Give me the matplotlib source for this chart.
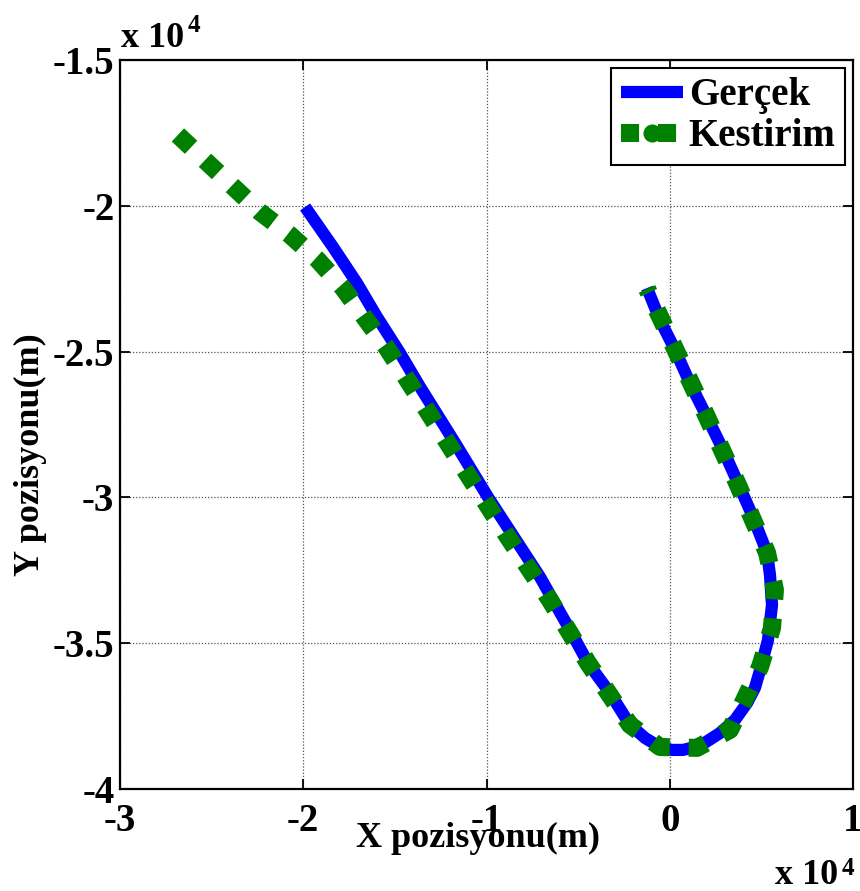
import matplotlib
matplotlib.use("Agg")
import matplotlib.pyplot as plt
from matplotlib.lines import Line2D
from matplotlib.ticker import FixedLocator, FuncFormatter

# ---- data (metres) ----
gercek_x = [-19900, -18380, -17070, -15980, -14720, -13630, -11720, -9920, -7080, -5440,
            -4460, -3260, -2170, -1350, -530, 120, 720, 1650, 2740, 3560, 4220, 4650,
            4930, 5360, 5580, 5470, 5310, 4540, 3720, 2910, 2030, 1100, 290, -530, -1240]
gercek_y = [-20040, -21410, -22650, -23810, -25050, -26210, -28130, -29990, -32730, -34550,
            -35680, -36710, -37800, -38250, -38560, -38660, -38660, -38520, -38080, -37630,
            -37050, -36530, -35920, -34890, -33690, -32660, -31900, -30670, -29500, -28370,
            -27240, -26080, -24940, -23920, -22820]

kestirim_x = [-26840, -22360, -20720, -19200, -17830, -16630, -15430, -13190, -11010, -8830,
              -6540, -4460, -2170, -530, 1490, 3290, 4930, 5580, 5740, 5310, 3720, 2030,
              290, -1240]
kestirim_y = [-17570, -20210, -21000, -21860, -22820, -23850, -24880, -27070, -29230, -31360,
              -33520, -35680, -37800, -38560, -38590, -37970, -35810, -34480, -33170, -31900,
              -29570, -27240, -24910, -22850]

x_ticks = [-30000, -20000, -10000, 0, 10000]
y_ticks = [-40000, -35000, -30000, -25000, -20000, -15000]
series_labels = ["Gerçek", "Kestirim"]

FONT = "Liberation Serif"
FS = 26
TFS = 28

fig = plt.figure(figsize=(8.6, 8.91), dpi=100)
W, H = 860, 891
left, right, top, bottom = 120, 853, 60, 789
ax = fig.add_axes([left / W, 1 - bottom / H, (right - left) / W, (bottom - top) / H])

ax.plot(gercek_x, gercek_y, color="#0000ff", lw=8.8, solid_capstyle="butt",
        solid_joinstyle="round", zorder=3)
ax.plot(kestirim_x, kestirim_y, color="#008000", lw=13, dashes=(1, 1.05),
        dash_capstyle="butt", zorder=4)

ax.set_xlim(-30000, 10000)
ax.set_ylim(-40000, -15000)
ax.xaxis.set_major_locator(FixedLocator(x_ticks))
ax.yaxis.set_major_locator(FixedLocator(y_ticks))
fmt = FuncFormatter(lambda v, p: ("%g" % (v / 1e4)))
ax.xaxis.set_major_formatter(fmt)
ax.yaxis.set_major_formatter(fmt)

ax.grid(True, color="#555555", linestyle=(0, (1, 1.5)), lw=0.9, zorder=1)
ax.tick_params(direction="in", length=7, width=1.3, top=True, right=True,
               labelsize=TFS)
ax.tick_params(axis="x", pad=10)
ax.tick_params(axis="y", pad=4)
for lab in ax.get_xticklabels() + ax.get_yticklabels():
    lab.set_fontfamily(FONT)
    lab.set_fontweight("bold")
for s in ax.spines.values():
    s.set_linewidth(1.6)
    s.set_color("black")

# axis labels
fig.text(478 / W, 1 - 838 / H, "X pozisyonu(m)", fontsize=FS, fontfamily=FONT,
         fontweight="bold", ha="center", va="center")
fig.text(30 / W, 1 - 455 / H, "Y pozisyonu(m)", fontsize=FS, fontfamily=FONT,
         fontweight="bold", ha="center", va="center", rotation=90)

# offset texts (x 10^4)
def offset(xp, yp, sup_dy):
    fig.text(xp / W, 1 - yp / H, "x 10", fontsize=FS, fontfamily=FONT,
             fontweight="bold", ha="left", va="baseline")
    fig.text((xp + 67) / W, 1 - (yp - sup_dy) / H, "4", fontsize=18, fontfamily=FONT,
             fontweight="bold", ha="left", va="baseline")

offset(121, 47, 15)
offset(775, 884, 9)

handles = [
    Line2D([], [], color="#0000ff", lw=8.8, solid_capstyle="butt"),
    Line2D([], [], color="#008000", lw=13, dashes=(1, 1.05), dash_capstyle="butt",
           marker="o", markersize=13, markeredgewidth=0),
]
leg = ax.legend(handles, series_labels, loc="upper right", frameon=True, fancybox=False,
                prop={"family": FONT, "weight": "bold", "size": TFS}, handlelength=1.6,
                borderaxespad=0.2, handletextpad=0.15, labelspacing=0.1,
                borderpad=0.25, numpoints=1)
leg.get_frame().set_edgecolor("black")
leg.get_frame().set_linewidth(1.5)
leg.get_frame().set_alpha(1)
leg.set_zorder(10)

fig.savefig("out.png", dpi=100)
